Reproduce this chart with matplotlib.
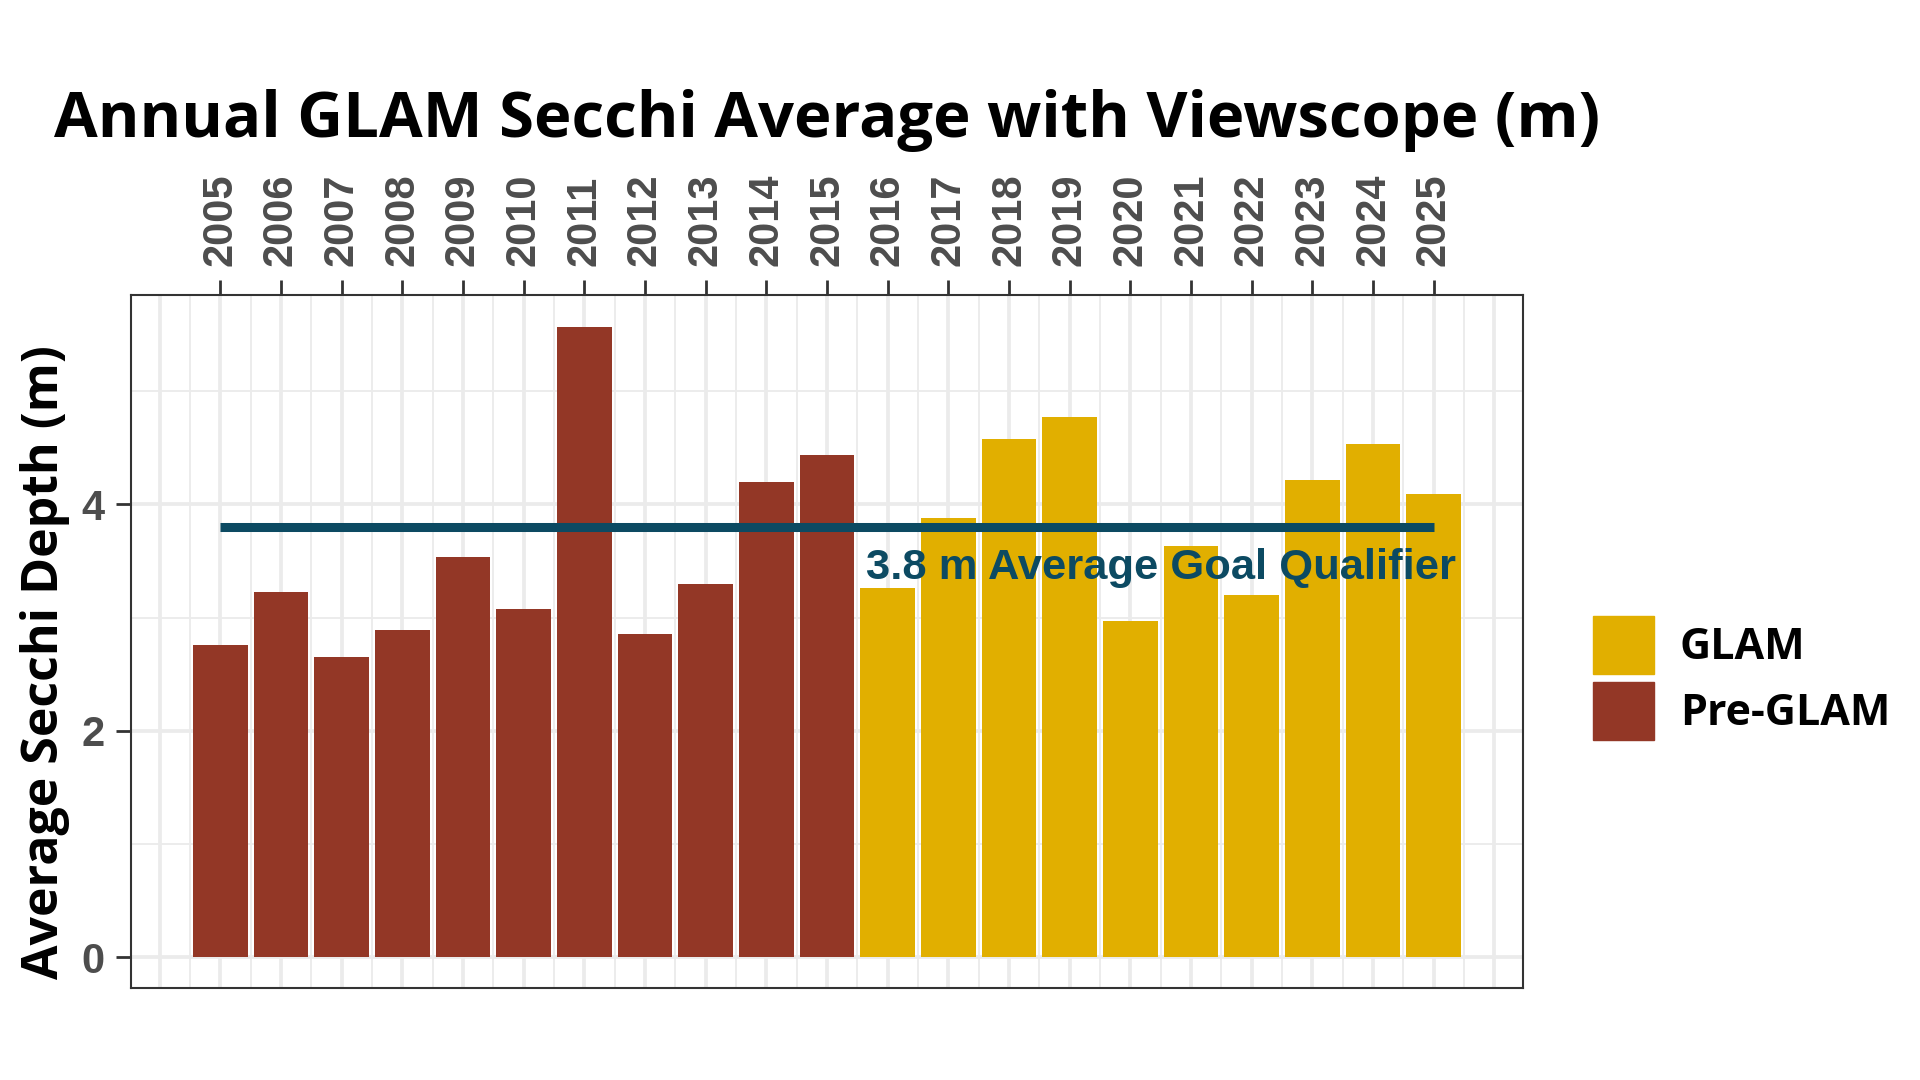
import matplotlib
matplotlib.use("Agg")
import matplotlib.pyplot as plt
from matplotlib.patches import Patch

# Werte
years = list(range(2005, 2026))
secchi = [2.76, 3.23, 2.65, 2.89, 3.54, 3.08, 5.57, 2.86, 3.30, 4.20, 4.44,
          3.26, 3.88, 4.58, 4.77, 2.97, 3.63, 3.20, 4.22, 4.53, 4.09]
groups = ["Pre-GLAM"] * 11 + ["GLAM"] * 10
goal = 3.8
goal_label = "3.8 m Average Goal Qualifier"

colors = {"GLAM": "#E1AF00", "Pre-GLAM": "#933726"}
line_col = "#0C4A62"
tick_col = "#4D4D4D"
head_font = ["Open Sans", "DejaVu Sans"]

fig = plt.figure(figsize=(19.2, 10.8), dpi=100)
ax = fig.add_axes([131 / 1920, 92 / 1080, 1392 / 1920, 693 / 1080])

# Gitter wie bei theme_bw
for x in range(2004, 2027):
    ax.axvline(x, color="#EBEBEB", lw=2.7, zorder=0)
    ax.axvline(x + 0.5, color="#EBEBEB", lw=1.3, zorder=0)
for y in [0, 2, 4]:
    ax.axhline(y, color="#EBEBEB", lw=2.7, zorder=0)
for y in [1, 3, 5]:
    ax.axhline(y, color="#EBEBEB", lw=1.3, zorder=0)

ax.bar(years, secchi, width=0.9, color=[colors[g] for g in groups],
       edgecolor="none", zorder=2)
ax.plot([years[0], years[-1]], [goal, goal], color=line_col, lw=6.5,
        solid_capstyle="butt", zorder=3)
ax.text(2020.5, 3.44, goal_label, color=line_col, fontsize=31.3,
        fontweight="bold", family="Liberation Sans", ha="center", va="center",
        zorder=4)

ax.set_xlim(2003.53, 2026.47)
ax.set_ylim(-0.27, 5.85)
ax.xaxis.tick_top()
ax.set_xticks(years)
ax.set_xticklabels([str(y) for y in years], rotation=90)
ax.set_yticks([0, 2, 4])
ax.tick_params(axis="both", colors="#333333", width=2, length=11,
               labelcolor=tick_col, labelsize=30)
ax.tick_params(axis="x", pad=10)
ax.tick_params(axis="y", pad=8)
for lab in ax.get_xticklabels() + ax.get_yticklabels():
    lab.set_fontweight("bold")
    lab.set_family("Liberation Sans")
for s in ax.spines.values():
    s.set_color("#333333")
    s.set_linewidth(1.5)

fig.text(54 / 1920, 1 - 137 / 1080,
         "Annual GLAM Secchi Average with Viewscope (m)",
         fontsize=45.6, fontweight="bold", family=head_font,
         ha="left", va="baseline")
fig.text(45 / 1920, 1 - 662 / 1080, "Average Secchi Depth (m)",
         fontsize=36, fontweight="bold", family=head_font,
         rotation=90, ha="center", va="center")

handles = [Patch(color=colors["GLAM"], label="GLAM"),
           Patch(color=colors["Pre-GLAM"], label="Pre-GLAM")]
leg = fig.legend(handles=handles, loc="center left",
                 bbox_to_anchor=(1593 / 1920, 1 - 678 / 1080),
                 frameon=False, borderpad=0, borderaxespad=0,
                 handlelength=1.42, handleheight=1.69, labelspacing=0.17,
                 handletextpad=0.6,
                 prop={"family": head_font, "weight": "bold", "size": 31})

fig.savefig("out.png", dpi=100)
